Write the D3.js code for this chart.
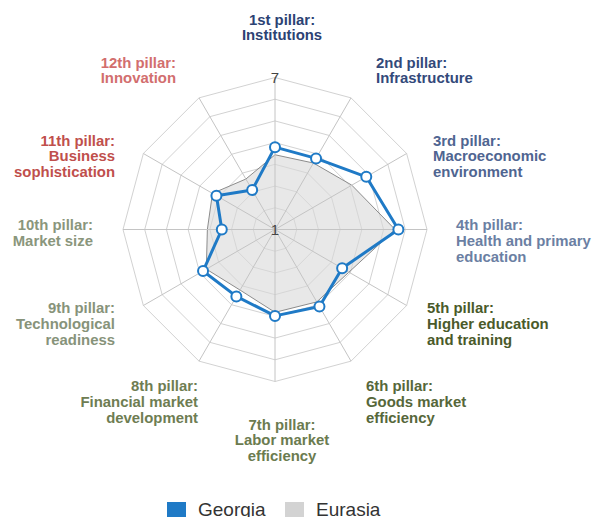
<!DOCTYPE html>
<html>
<head>
<meta charset="utf-8">
<script src="https://cdn.jsdelivr.net/npm/d3@7"></script>
<style>
  html, body { margin: 0; padding: 0; background: #fff; }
  svg { display: block; font-family: "Liberation Sans", Arial, Helvetica, sans-serif; }
</style>
</head>
<body>
<svg id="chart" width="597" height="517"></svg>
<script>
// Global Competitiveness Index pillars, scores on the 1–7 scale
const pillars = [
  "1st pillar: Institutions",
  "2nd pillar: Infrastructure",
  "3rd pillar: Macroeconomic environment",
  "4th pillar: Health and primary education",
  "5th pillar: Higher education and training",
  "6th pillar: Goods market efficiency",
  "7th pillar: Labor market efficiency",
  "8th pillar: Financial market development",
  "9th pillar: Technological readiness",
  "10th pillar: Market size",
  "11th pillar: Business sophistication",
  "12th pillar: Innovation"
];
const georgia = [4.25, 4.24, 5.16, 5.87, 4.06, 4.51, 4.41, 4.05, 4.28, 3.10, 3.67, 2.80];
const eurasia = [3.95, 4.03, 4.50, 5.74, 4.37, 4.30, 4.27, 3.76, 4.13, 3.67, 3.85, 3.30];
const scaleMin = 1, scaleMax = 7;
const axisTickLabels = ["1", "7"];
const seriesNames = ["Georgia", "Eurasia"];

// Label text split into lines, with colour and placement per pillar
const labelLines = [
  ["1st pillar:", "Institutions"],
  ["2nd pillar:", "Infrastructure"],
  ["3rd pillar:", "Macroeconomic", "environment"],
  ["4th pillar:", "Health and primary", "education"],
  ["5th pillar:", "Higher education", "and training"],
  ["6th pillar:", "Goods market", "efficiency"],
  ["7th pillar:", "Labor market", "efficiency"],
  ["8th pillar:", "Financial market", "development"],
  ["9th pillar:", "Technological", "readiness"],
  ["10th pillar:", "Market size"],
  ["11th pillar:", "Business", "sophistication"],
  ["12th pillar:", "Innovation"]
];
const labelColors = ["#2c4273", "#33497a", "#4f6591", "#6b7fa3", "#4a5a2a", "#56673a",
                     "#6b7b4f", "#6e7d52", "#87937a", "#8a967c", "#c04f4c", "#d26e6e"];
const labelPos = [
  { x: 282, y: 24.5, anchor: "middle" },
  { x: 376, y: 67.5, anchor: "start" },
  { x: 433, y: 145.5, anchor: "start" },
  { x: 456, y: 230, anchor: "start" },
  { x: 427, y: 313, anchor: "start" },
  { x: 366, y: 391, anchor: "start" },
  { x: 282, y: 429.5, anchor: "middle" },
  { x: 198, y: 391, anchor: "end" },
  { x: 115, y: 313, anchor: "end" },
  { x: 93, y: 230, anchor: "end" },
  { x: 115, y: 145.5, anchor: "end" },
  { x: 176, y: 67.5, anchor: "end" }
];

const svg = d3.select("#chart");
const cx = 275, cy = 229.5, R = 152;
const n = pillars.length;
const ringCount = 7;

const angle = d3.scaleLinear().domain([0, n]).range([0, 2 * Math.PI]);
const r = d3.scaleLinear().domain([scaleMin, scaleMax]).range([0, R]);

const g = svg.append("g").attr("transform", `translate(${cx},${cy})`);

const radialLine = d3.lineRadial()
  .angle((d, i) => angle(i))
  .radius(d => d)
  .curve(d3.curveLinearClosed);

// Spider-web grid rings
const ringRadii = d3.range(1, ringCount + 1).map(k => R * k / ringCount);
g.append("g").selectAll("path")
  .data(ringRadii)
  .join("path")
  .attr("d", rr => radialLine(d3.range(n).map(() => rr)))
  .attr("fill", "none")
  .attr("stroke", "#d2d2d2")
  .attr("stroke-width", 1);

// Series: Eurasia area behind, Georgia line on top
const valueLine = d3.lineRadial()
  .angle((d, i) => angle(i))
  .radius(d => r(d))
  .curve(d3.curveLinearClosed);

g.append("path")
  .attr("d", valueLine(eurasia))
  .attr("fill", "#d8d8d8")
  .attr("fill-opacity", 0.6)
  .attr("stroke", "#8c8c8c")
  .attr("stroke-width", 1);

// Spokes
g.append("g").selectAll("line")
  .data(d3.range(n))
  .join("line")
  .attr("x1", 0).attr("y1", 0)
  .attr("x2", i => R * Math.sin(angle(i)))
  .attr("y2", i => -R * Math.cos(angle(i)))
  .attr("stroke", "#c4c4c4")
  .attr("stroke-width", 1);

// Radial axis labels at the centre and the outer ring
g.append("g").selectAll("text")
  .data(axisTickLabels)
  .join("text")
  .attr("x", 0)
  .attr("y", d => -r(+d))
  .attr("dy", "0.36em")
  .attr("text-anchor", "middle")
  .attr("font-size", 15)
  .attr("fill", "#444")
  .text(d => d);

g.append("path")
  .attr("d", valueLine(georgia))
  .attr("fill", "none")
  .attr("stroke", "#1f7ac6")
  .attr("stroke-width", 3)
  .attr("stroke-linejoin", "round");

g.append("g").selectAll("circle")
  .data(georgia)
  .join("circle")
  .attr("cx", (d, i) => r(d) * Math.sin(angle(i)))
  .attr("cy", (d, i) => -r(d) * Math.cos(angle(i)))
  .attr("r", 5)
  .attr("fill", "#fff")
  .attr("stroke", "#1f7ac6")
  .attr("stroke-width", 2);

// Pillar labels
const labels = svg.append("g")
  .attr("font-weight", "bold")
  .attr("font-size", 14.9);
labelLines.forEach((lines, i) => {
  const p = labelPos[i];
  const t = labels.append("text")
    .attr("x", p.x)
    .attr("y", p.y)
    .attr("text-anchor", p.anchor)
    .attr("fill", labelColors[i]);
  lines.forEach((ln, j) => {
    t.append("tspan")
      .attr("x", p.x)
      .attr("dy", j === 0 ? 0 : 15.8)
      .text(ln);
  });
});

// Legend
const legendColors = ["#1f7ac6", "#d3d3d3"];
const legendX = [167, 285];
const legend = svg.append("g");
seriesNames.forEach((name, i) => {
  legend.append("rect")
    .attr("x", legendX[i]).attr("y", 502)
    .attr("width", 19).attr("height", 19)
    .attr("fill", legendColors[i]);
  legend.append("text")
    .attr("x", legendX[i] + 31).attr("y", 516)
    .attr("font-size", 19)
    .attr("fill", "#333")
    .text(name);
});
</script>
</body>
</html>
